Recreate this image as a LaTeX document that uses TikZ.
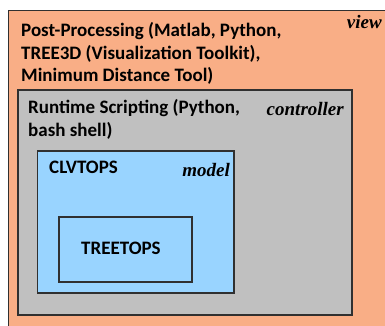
\documentclass[tikz,border=0pt]{standalone}
\usepackage{fontspec}
\setmainfont{Carlito}
\newfontfamily\rolefont{Liberation Serif}
\definecolor{viewc}{HTML}{F9AE86}
\definecolor{ctrlc}{HTML}{C0C0C0}
\definecolor{modelc}{HTML}{99D4FF}
\definecolor{edgec}{HTML}{303030}
\begin{document}
\begin{tikzpicture}[x=1pt,y=-1pt,
  layer/.style={draw=edgec,line width=1.4pt},
  lbl/.style={anchor=base west,inner sep=0pt,align=left,
    font=\fontsize{19}{22.5}\selectfont\bfseries},
  role/.style={anchor=base east,inner sep=0pt,
    font=\rolefont\fontsize{19}{20}\selectfont\bfseries\itshape}]
\useasboundingbox (0,0) rectangle (385,326);
\begin{scope}
\clip (0,0) rectangle (385,326);
\draw[layer,fill=viewc] (8.5,10.5) rectangle (400,340);
\end{scope}
\draw[layer,fill=ctrlc] (18,90) rectangle (352,315);
\draw[layer,fill=modelc] (37.5,151) rectangle (234,293);
\draw[layer,fill=modelc] (59,217) rectangle (192,282);
\node[lbl] (viewtxt) at (21,82) {Post-Processing (Matlab, Python,\\TREE3D (Visualization Toolkit),\\Minimum Distance Tool)};
\node[role] (viewrole) at (382,29) {view};
\node[lbl] (ctrltxt) at (28,136) {Runtime Scripting (Python,\\bash shell)};
\node[role] (ctrlrole) at (344,115) {controller};
\node[lbl] (modeltxt) at (49,173) {CLVTOPS};
\node[role] (modelrole) at (230,176) {model};
\node[lbl] (treetxt) at (81,254) {TREETOPS};
\end{tikzpicture}
\end{document}
